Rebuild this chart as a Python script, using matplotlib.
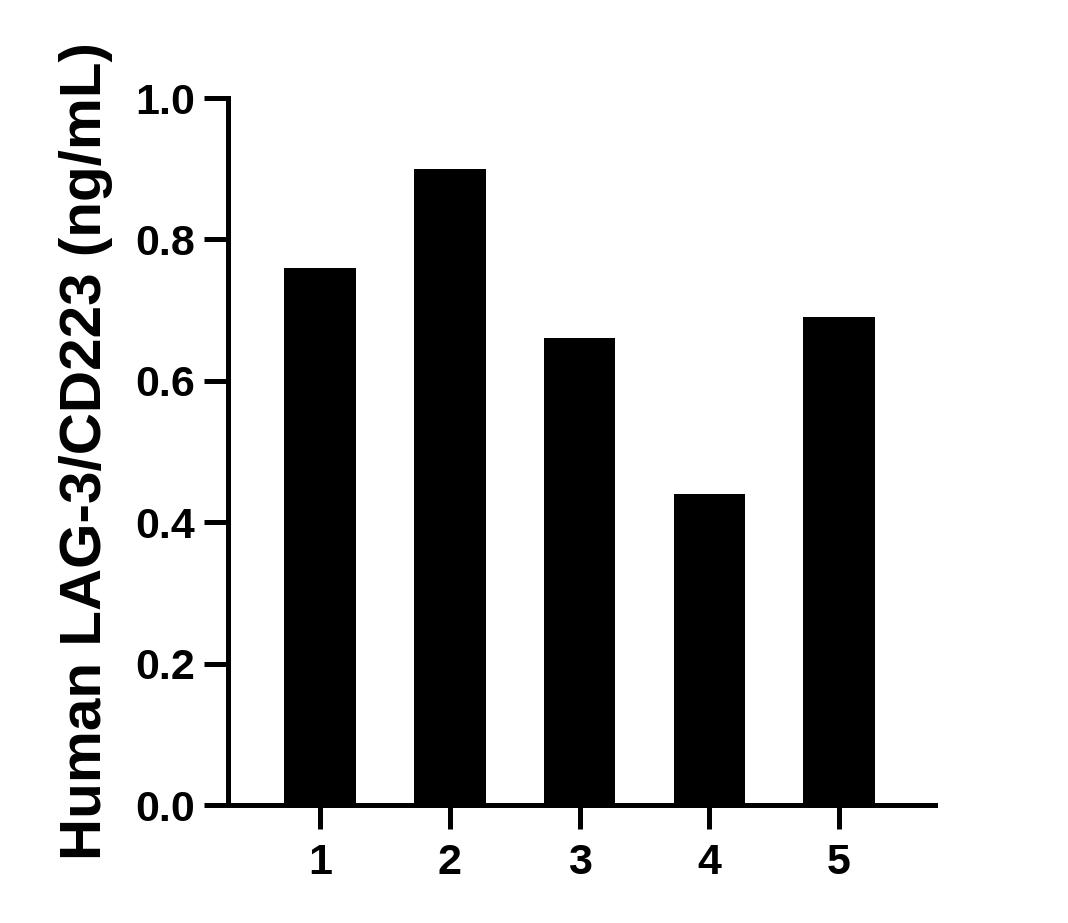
from matplotlib import pyplot as plt

plt.rcParams['font.family'] = ['Liberation Sans', 'DejaVu Sans']
plt.rcParams['font.weight'] = 'bold'

samples = [1, 2, 3, 4, 5]
values = [0.76, 0.90, 0.66, 0.44, 0.69]
y_ticks = [0.0, 0.2, 0.4, 0.6, 0.8, 1.0]

fig = plt.figure(figsize=(10.68, 9.23), dpi=100)
ax = fig.add_axes([0.2135, 0.1278, 0.662, 0.766])

ax.bar(samples, values, width=0.55, color='black', zorder=1)

ax.set_xlim(0.29, 5.74)
ax.set_ylim(0, 1.0)
ax.set_xticks(samples)
ax.set_xticklabels([str(s) for s in samples])
ax.set_yticks(y_ticks)
ax.set_yticklabels(["{:.1f}".format(v) for v in y_ticks])

for side in ['top', 'right']:
    ax.spines[side].set_visible(False)
for side in ['left', 'bottom']:
    ax.spines[side].set_linewidth(3.6)
    ax.spines[side].set_capstyle('projecting')

ax.tick_params(axis='both', width=3.6, length=17, labelsize=31, pad=7)
ax.tick_params(axis='x', pad=10)

ax.set_ylabel("Human LAG-3/CD223 (ng/mL)", fontsize=42, fontweight='bold', labelpad=16)

plt.savefig('out.png', dpi=100)
